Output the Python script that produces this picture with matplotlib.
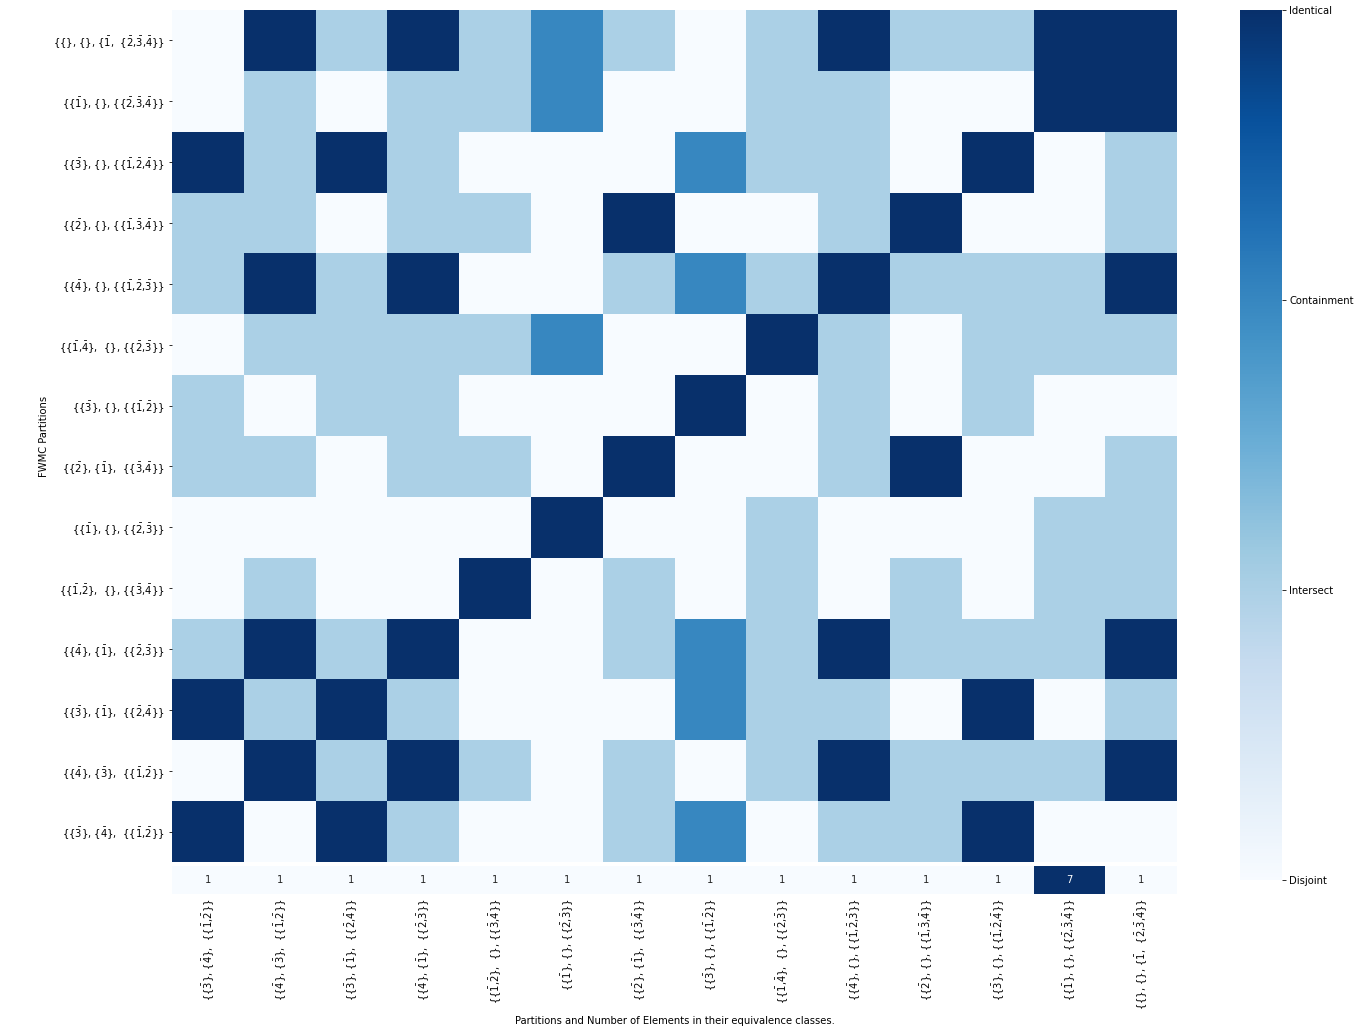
import matplotlib
matplotlib.use("Agg")
import matplotlib.pyplot as plt
import numpy as np


def b(d):
    # digit with a bar on top
    return r"$\bar{" + d + "}$"


# partitions, top to bottom on the y axis
row_labels = [
    "{{}, {}, {" + b("1") + ",  {" + b("2") + "," + b("3") + "," + b("4") + "}}",
    "{{" + b("1") + "}, {}, {{" + b("2") + "," + b("3") + "," + b("4") + "}}",
    "{{" + b("3") + "}, {}, {{" + b("1") + "," + b("2") + "," + b("4") + "}}",
    "{{" + b("2") + "}, {}, {{" + b("1") + "," + b("3") + "," + b("4") + "}}",
    "{{" + b("4") + "}, {}, {{" + b("1") + "," + b("2") + "," + b("3") + "}}",
    "{{" + b("1") + "," + b("4") + "},  {}, {{" + b("2") + "," + b("3") + "}}",
    "{{" + b("3") + "}, {}, {{" + b("1") + "," + b("2") + "}}",
    "{{" + b("2") + "}, {" + b("1") + "},  {{" + b("3") + "," + b("4") + "}}",
    "{{" + b("1") + "}, {}, {{" + b("2") + "," + b("3") + "}}",
    "{{" + b("1") + "," + b("2") + "},  {}, {{" + b("3") + "," + b("4") + "}}",
    "{{" + b("4") + "}, {" + b("1") + "},  {{" + b("2") + "," + b("3") + "}}",
    "{{" + b("3") + "}, {" + b("1") + "},  {{" + b("2") + "," + b("4") + "}}",
    "{{" + b("4") + "}, {" + b("3") + "},  {{" + b("1") + "," + b("2") + "}}",
    "{{" + b("3") + "}, {" + b("4") + "},  {{" + b("1") + "," + b("2") + "}}",
]
# the x axis uses the same partitions in reverse order
col_labels = row_labels[::-1]

# number of elements in each equivalence class (bottom strip)
class_counts = [1, 1, 1, 1, 1, 1, 1, 1, 1, 1, 1, 1, 7, 1]

# 0 = Disjoint, 1 = Intersect, 2 = Containment, 3 = Identical
relation = np.array([
    [0, 3, 1, 3, 1, 2, 1, 0, 1, 3, 1, 1, 3, 3],
    [0, 1, 0, 1, 1, 2, 0, 0, 1, 1, 0, 0, 3, 3],
    [3, 1, 3, 1, 0, 0, 0, 2, 1, 1, 0, 3, 0, 1],
    [1, 1, 0, 1, 1, 0, 3, 0, 0, 1, 3, 0, 0, 1],
    [1, 3, 1, 3, 0, 0, 1, 2, 1, 3, 1, 1, 1, 3],
    [0, 1, 1, 1, 1, 2, 0, 0, 3, 1, 0, 1, 1, 1],
    [1, 0, 1, 1, 0, 0, 0, 3, 0, 1, 0, 1, 0, 0],
    [1, 1, 0, 1, 1, 0, 3, 0, 0, 1, 3, 0, 0, 1],
    [0, 0, 0, 0, 0, 3, 0, 0, 1, 0, 0, 0, 1, 1],
    [0, 1, 0, 0, 3, 0, 1, 0, 1, 0, 1, 0, 1, 1],
    [1, 3, 1, 3, 0, 0, 1, 2, 1, 3, 1, 1, 1, 3],
    [3, 1, 3, 1, 0, 0, 0, 2, 1, 1, 0, 3, 0, 1],
    [0, 3, 1, 3, 1, 0, 1, 0, 1, 3, 1, 1, 1, 3],
    [3, 0, 3, 1, 0, 0, 1, 2, 0, 1, 1, 3, 0, 0],
])
relation_names = ["Disjoint", "Intersect", "Containment", "Identical"]

plt.rcParams["mathtext.fontset"] = "dejavusans"
plt.rcParams["mathtext.default"] = "regular"

fig = plt.figure(figsize=(1360 / 72, 1028 / 72), dpi=72)
ax = fig.add_axes([0.1265, 0.1615, 0.739, 0.8288])
ax_cnt = fig.add_axes([0.1265, 0.1304, 0.739, 0.0272])
cax = fig.add_axes([0.9118, 0.144, 0.0309, 0.846])

n = len(row_labels)
mesh = ax.pcolormesh(relation, cmap="Blues", vmin=0, vmax=3)
ax.set_xlim(0, n)
ax.set_ylim(n, 0)
ax.set_yticks(np.arange(n) + 0.5)
ax.set_yticklabels(row_labels, fontsize=10)
ax.set_xticks([])
ax.set_ylabel("FWMC Partitions", fontsize=10)
for s in ax.spines.values():
    s.set_visible(False)

# count strip under the heatmap
cnt = np.array(class_counts)[None, :]
ax_cnt.pcolormesh(cnt, cmap="Blues", vmin=cnt.min(), vmax=cnt.max())
ax_cnt.set_xlim(0, n)
ax_cnt.set_ylim(1, 0)
for i, v in enumerate(class_counts):
    col = "white" if v == max(class_counts) else "#262626"
    ax_cnt.text(i + 0.5, 0.5, str(v), ha="center", va="center", fontsize=10, color=col)
ax_cnt.set_yticks([])
ax_cnt.set_xticks(np.arange(n) + 0.5)
ax_cnt.set_xticklabels(col_labels, rotation=90, fontsize=10)
ax_cnt.tick_params(axis="x", length=0, pad=4)
ax_cnt.set_xlabel("Partitions and Number of Elements in their equivalence classes.", fontsize=10, labelpad=6)
for s in ax_cnt.spines.values():
    s.set_visible(False)

cb = fig.colorbar(mesh, cax=cax)
cb.set_ticks([0, 1, 2, 3])
cb.set_ticklabels(relation_names)
cb.ax.tick_params(labelsize=10)
cb.outline.set_visible(False)

fig.savefig("out.png", dpi=72)
